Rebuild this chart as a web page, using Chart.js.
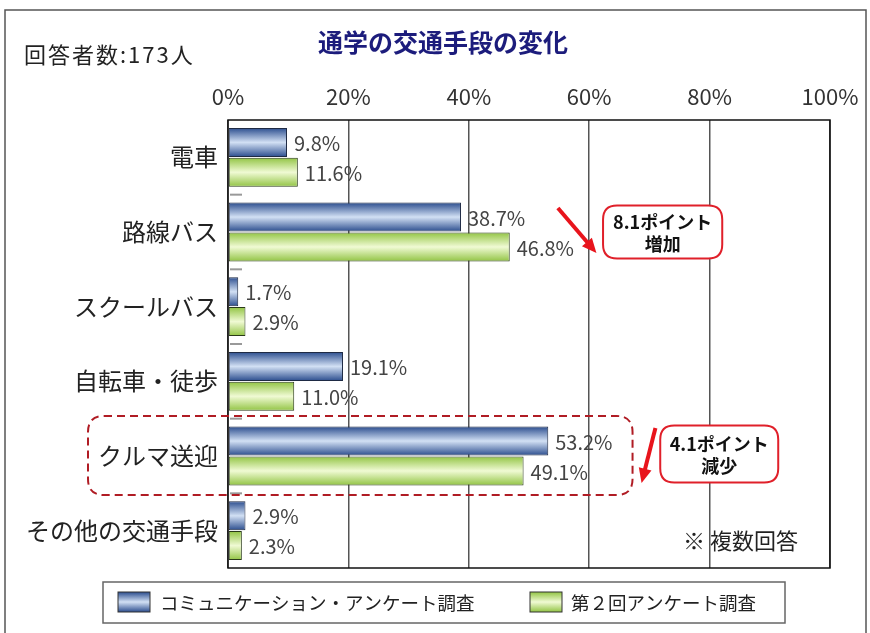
<!DOCTYPE html>
<html>
<head>
<meta charset="utf-8">
<script src="https://cdn.jsdelivr.net/npm/chart.js@4.4.1/dist/chart.umd.min.js"></script>
<style>
  html, body { margin: 0; padding: 0; background: #fff; }
  #wrap { width: 870px; height: 633px; }
</style>
</head>
<body>
<div id="wrap"><canvas id="myChart" width="870" height="633"></canvas></div>
<script>
var categories = ["電車", "路線バス", "スクールバス", "自転車・徒歩", "クルマ送迎", "その他の交通手段"];
var surveyComm = [9.8, 38.7, 1.7, 19.1, 53.2, 2.9];
var survey2nd = [11.6, 46.8, 2.9, 11.0, 49.1, 2.3];
var seriesNames = ["コミュニケーション・アンケート調査", "第２回アンケート調査"];
var xTicks = [0, 20, 40, 60, 80, 100];

var JP = '"Noto Sans CJK JP", "Noto Sans", sans-serif';
var CAT_PCT = 0.8, BAR_PCT = 0.97;

// gradient colours (edge, middle) for each series
var barShades = [
  ["#2b4d8e", "#d2e0f4"],
  ["#92c444", "#f0fad4"]
];

function bandGradient(ctx, top, bottom, shade) {
  var g = ctx.createLinearGradient(0, top, 0, bottom);
  g.addColorStop(0, shade[0]);
  g.addColorStop(0.5, shade[1]);
  g.addColorStop(1, shade[0]);
  return g;
}

// colour for one bar, worked out from the y scale
function barFill(c) {
  var ch = c.chart, ys = ch.scales.y, di = c.datasetIndex;
  if (!ys || !ch.chartArea || c.dataIndex === undefined) return barShades[di][0];
  var catW = Math.abs(ys.getPixelForValue(1) - ys.getPixelForValue(0));
  var band = catW * CAT_PCT, slot = band / 2;
  var center = ys.getPixelForValue(c.dataIndex) - band / 2 + slot * (di + 0.5);
  var half = slot * BAR_PCT / 2;
  return bandGradient(ch.ctx, center - half, center + half, barShades[di]);
}

function roundRect(ctx, x, y, w, h, r) {
  ctx.beginPath();
  ctx.moveTo(x + r, y);
  ctx.lineTo(x + w - r, y);
  ctx.quadraticCurveTo(x + w, y, x + w, y + r);
  ctx.lineTo(x + w, y + h - r);
  ctx.quadraticCurveTo(x + w, y + h, x + w - r, y + h);
  ctx.lineTo(x + r, y + h);
  ctx.quadraticCurveTo(x, y + h, x, y + h - r);
  ctx.lineTo(x, y + r);
  ctx.quadraticCurveTo(x, y, x + r, y);
  ctx.closePath();
}

function arrow(ctx, x1, y1, x2, y2) {
  var ang = Math.atan2(y2 - y1, x2 - x1);
  var hl = 16;
  ctx.strokeStyle = "#e8141c";
  ctx.fillStyle = "#e8141c";
  ctx.lineWidth = 4;
  ctx.beginPath();
  ctx.moveTo(x1, y1);
  ctx.lineTo(x2 - Math.cos(ang) * hl * 0.8, y2 - Math.sin(ang) * hl * 0.8);
  ctx.stroke();
  ctx.beginPath();
  ctx.moveTo(x2, y2);
  ctx.lineTo(x2 - hl * Math.cos(ang - 0.42), y2 - hl * Math.sin(ang - 0.42));
  ctx.lineTo(x2 - hl * Math.cos(ang + 0.42), y2 - hl * Math.sin(ang + 0.42));
  ctx.closePath();
  ctx.fill();
}

function noteBox(ctx, x1, x2, yc, h, line1, line2) {
  ctx.save();
  roundRect(ctx, x1, yc - h / 2, x2 - x1, h, 14);
  ctx.fillStyle = "#fff";
  ctx.fill();
  ctx.strokeStyle = "#e0202a";
  ctx.lineWidth = 2;
  ctx.stroke();
  ctx.fillStyle = "#111";
  ctx.font = "bold 18px " + JP;
  ctx.textAlign = "center";
  ctx.textBaseline = "middle";
  ctx.fillText(line1, (x1 + x2) / 2, yc - 10);
  ctx.fillText(line2, (x1 + x2) / 2, yc + 12);
  ctx.restore();
}

var decorPlugin = {
  id: "decor",
  afterDatasetsDraw: function(chart) {
    var ctx = chart.ctx;
    var xs = chart.scales.x, ys = chart.scales.y, area = chart.chartArea;
    ctx.save();
    // value labels
    ctx.font = "20px " + JP;
    ctx.fillStyle = "#444";
    ctx.textAlign = "left";
    ctx.textBaseline = "middle";
    chart.data.datasets.forEach(function(ds, di) {
      chart.getDatasetMeta(di).data.forEach(function(bar, i) {
        ctx.fillText(ds.data[i].toFixed(1) + "%", bar.x + 7, bar.y + 1);
      });
    });
    // small separators between categories
    ctx.strokeStyle = "#999";
    ctx.lineWidth = 2;
    for (var i = 0; i < categories.length - 1; i++) {
      var yy = ys.getPixelForValue(i + 0.5);
      ctx.beginPath();
      ctx.moveTo(area.left + 2, yy);
      ctx.lineTo(area.left + 14, yy);
      ctx.stroke();
    }
    // plot frame
    ctx.strokeStyle = "#111";
    ctx.lineWidth = 1.5;
    ctx.strokeRect(area.left, area.top, area.right - area.left, area.bottom - area.top);

    // dashed highlight around クルマ送迎
    var yc4 = ys.getPixelForValue(4);
    ctx.save();
    ctx.setLineDash([8, 5]);
    ctx.strokeStyle = "#b01c24";
    ctx.lineWidth = 2;
    roundRect(ctx, 88, yc4 - 40, xs.getPixelForValue(67.2) - 88, 79, 16);
    ctx.stroke();
    ctx.restore();

    // arrows and notes
    var yc1 = ys.getPixelForValue(1);
    arrow(ctx, xs.getPixelForValue(54.8), yc1 - 24, xs.getPixelForValue(61.2), yc1 + 21);
    noteBox(ctx, xs.getPixelForValue(62.3), xs.getPixelForValue(82.1), yc1, 53, "8.1ポイント", "増加");
    arrow(ctx, xs.getPixelForValue(71.0), yc4 - 28, xs.getPixelForValue(68.7), yc4 + 27);
    noteBox(ctx, xs.getPixelForValue(71.8), xs.getPixelForValue(91.4), yc4 - 2, 57, "4.1ポイント", "減少");

    ctx.restore();
  },
  afterDraw: function(chart) {
    var ctx = chart.ctx;
    ctx.save();
    // outer frame
    ctx.strokeStyle = "#555";
    ctx.lineWidth = 1.5;
    ctx.strokeRect(5, 10, 861, 640);

    // title + respondent count
    ctx.fillStyle = "#1c1c7c";
    ctx.font = "bold 25px " + JP;
    ctx.textAlign = "center";
    ctx.textBaseline = "middle";
    ctx.fillText("通学の交通手段の変化", 443, 42);
    ctx.fillStyle = "#222";
    ctx.font = "22px " + JP;
    ctx.textAlign = "left";
    ctx.letterSpacing = "2px";
    ctx.fillText("回答者数:173人", 24, 55);
    ctx.letterSpacing = "0px";

    // note
    ctx.font = "22px " + JP;
    ctx.fillText("※ 複数回答", 683, 541);

    // legend box
    ctx.strokeStyle = "#666";
    ctx.lineWidth = 1.5;
    ctx.strokeRect(103, 582, 682, 41);
    var items = [{ x: 118, tx: 160 }, { x: 530, tx: 571 }];
    chart.data.datasets.forEach(function(ds, di) {
      var it = items[di];
      ctx.fillStyle = bandGradient(ctx, 592, 612, barShades[di]);
      ctx.fillRect(it.x, 592, 32, 20);
      ctx.strokeStyle = "#333";
      ctx.lineWidth = 1;
      ctx.strokeRect(it.x, 592, 32, 20);
      ctx.fillStyle = "#222";
      ctx.font = "18.5px " + JP;
      ctx.fillText(ds.label, it.tx, 603);
    });
    ctx.restore();
  }
};

new Chart("myChart", {
  type: "bar",
  data: {
    labels: categories,
    datasets: [{
      label: seriesNames[0],
      data: surveyComm,
      backgroundColor: barFill,
      borderColor: "#1e2a44",
      borderWidth: 1,
      borderSkipped: false,
      categoryPercentage: CAT_PCT,
      barPercentage: BAR_PCT
    }, {
      label: seriesNames[1],
      data: survey2nd,
      backgroundColor: barFill,
      borderColor: "#2a3a18",
      borderWidth: 1,
      borderSkipped: false,
      categoryPercentage: CAT_PCT,
      barPercentage: BAR_PCT
    }]
  },
  options: {
    indexAxis: "y",
    responsive: false,
    animation: false,
    layout: { padding: { left: 0, right: 40, top: 72, bottom: 65 } },
    plugins: {
      legend: { display: false },
      tooltip: { enabled: false }
    },
    scales: {
      x: {
        position: "top",
        min: 0,
        max: 100,
        afterBuildTicks: function(scale) {
          scale.ticks = xTicks.map(function(v) { return { value: v }; });
        },
        afterFit: function(scale) { scale.height = 48; },
        grid: { color: "#555", lineWidth: 1.5, drawTicks: false, drawOnChartArea: true },
        border: { display: false },
        ticks: {
          padding: 10,
          color: "#333",
          font: { size: 22, family: JP },
          callback: function(v) { return v + "%"; }
        }
      },
      y: {
        afterFit: function(scale) { scale.width = 228; },
        grid: { display: false, drawTicks: false },
        border: { display: false },
        ticks: {
          padding: 10,
          color: "#222",
          font: { size: 24, family: JP }
        }
      }
    }
  },
  plugins: [decorPlugin]
});
</script>
</body>
</html>
